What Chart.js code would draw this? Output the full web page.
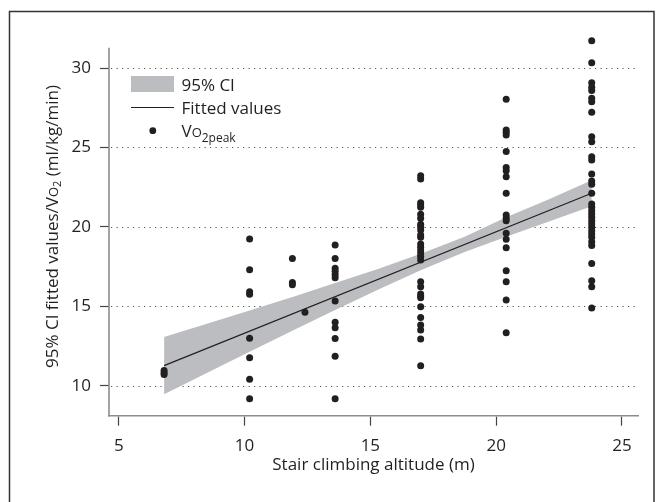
<!DOCTYPE html>
<html><head><meta charset="utf-8">
<script src="https://cdn.jsdelivr.net/npm/chart.js@4.4.0/dist/chart.umd.min.js"></script>
<style>html,body{margin:0;padding:0;background:#fff;}canvas{display:block;}</style>
</head><body>
<canvas id="c" width="662" height="502"></canvas>
<script>
// ---- data ----
const xTicks = [5, 10, 15, 20, 25];
const yTicks = [10, 15, 20, 25, 30];
const yAxisLineTop = 31.28;   // where the drawn y-axis line stops

const altitudes = [6.8, 10.2, 11.9, 12.4, 13.6, 17.0, 20.4, 23.8];
const vo2At6_8  = [10.95, 10.82, 10.7];
const vo2At10_2 = [19.24, 17.3, 15.92, 15.76, 12.98, 11.76, 10.4, 9.17];
const vo2At11_9 = [18.0, 16.5, 16.35];
const vo2At12_4 = [14.62];
const vo2At13_6 = [18.86, 18.0, 17.4, 17.2, 17.0, 16.8, 15.33, 14.0, 13.65, 12.97, 11.86, 9.17];
const vo2At17_0 = [23.22, 23.01, 21.52, 21.38, 21.23, 20.79, 20.54, 20.16, 20.01, 19.8, 19.49, 19.34,
                   18.92, 18.71, 18.5, 18.29, 18.12, 17.91, 16.55, 16.23, 15.77, 15.65, 15.54, 14.97,
                   14.3, 13.82, 13.51, 12.94, 11.26];
const vo2At20_4 = [28.03, 26.1, 25.95, 25.78, 24.74, 23.73, 23.54, 23.16, 22.11, 20.75, 20.54, 20.39,
                   19.59, 19.22, 18.69, 17.24, 16.55, 15.39, 13.34];
const vo2At23_8 = [31.72, 30.34, 29.08, 28.79, 28.58, 28.09, 27.88, 27.21, 25.68, 25.36, 24.42, 24.21,
                   23.33, 22.89, 22.68, 22.11, 21.44, 21.23, 21.02, 20.81, 20.6, 20.39, 20.18, 19.97,
                   19.76, 19.55, 19.34, 19.07, 18.82, 17.7, 16.61, 16.23, 14.89];
const vo2Columns = [vo2At6_8, vo2At10_2, vo2At11_9, vo2At12_4, vo2At13_6, vo2At17_0, vo2At20_4, vo2At23_8];

const fitX = [6.8, 23.8];
const fitY = [11.26, 22.12];

const ciX     = [6.8,  8.5,  10.2,  12.0,  13.6,  15.3,  17.0, 18.7,  20.4,  22.1,  23.8];
const ciUpper = [13.06, 13.9, 14.73, 15.63, 16.46, 17.34, 18.3, 19.34, 20.6, 21.74, 22.94];
const ciLower = [9.46, 10.8, 12.13, 13.53, 14.76, 16.04, 17.26, 18.38, 19.37, 20.34, 21.3];

// ---- styling ----
const FONT = '"Open Sans", "Noto Sans", sans-serif';
const INK = '#231f20';
const BAND = '#bcbdc0';

const points = [];
altitudes.forEach((x, i) => vo2Columns[i].forEach(y => points.push({x, y})));

function richText(ctx, segs, cx, cy) {
  let total = 0;
  segs.forEach(s => { ctx.font = s.size + 'px ' + FONT; s.w = ctx.measureText(s.t).width; total += s.w; });
  let x = cx - total / 2;
  segs.forEach(s => { ctx.font = s.size + 'px ' + FONT; ctx.fillText(s.t, x, cy + (s.dy || 0)); x += s.w; });
}

const decorPlugin = {
  id: 'decor',
  beforeDatasetsDraw(chart) {
    const {ctx, chartArea: a, scales: {y}} = chart;
    ctx.save();
    // y-axis line (ends below the top of the plotting area, as in the reference)
    ctx.strokeStyle = '#8c8c8c';
    ctx.lineWidth = 1.6;
    ctx.beginPath();
    ctx.moveTo(a.left, y.getPixelForValue(yAxisLineTop));
    ctx.lineTo(a.left, a.bottom + 0.8);
    ctx.stroke();
    // dotted horizontal grid lines
    ctx.strokeStyle = '#555';
    ctx.lineWidth = 1;
    ctx.setLineDash([1.2, 4.3]);
    yTicks.forEach(v => {
      const py = Math.round(y.getPixelForValue(v)) + 0.5;
      ctx.beginPath(); ctx.moveTo(a.left + 2, py); ctx.lineTo(a.right, py); ctx.stroke();
    });
    ctx.restore();
  },
  afterDraw(chart) {
    const {ctx} = chart;
    ctx.save();
    ctx.strokeStyle = '#333';
    ctx.lineWidth = 1.5;
    ctx.strokeRect(9.5, 11.5, 644.5, 520);
    ctx.fillStyle = INK;
    ctx.textBaseline = 'middle';
    ctx.translate(53, 226.5);
    ctx.rotate(-Math.PI / 2);
    richText(ctx, [
      {t: '95% CI fitted values/V', size: 17},
      {t: 'O', size: 13, dy: 1},
      {t: '2', size: 11, dy: 5},
      {t: ' (ml/kg/min)', size: 17}
    ], 0, 0);
    ctx.restore();

    ctx.save();
    ctx.fillStyle = BAND;
    ctx.fillRect(131, 76, 43, 16);
    ctx.strokeStyle = INK;
    ctx.lineWidth = 1.2;
    ctx.beginPath(); ctx.moveTo(131, 107.5); ctx.lineTo(174, 107.5); ctx.stroke();
    ctx.fillStyle = INK;
    ctx.beginPath(); ctx.arc(152.8, 130.7, 3.4, 0, Math.PI * 2); ctx.fill();
    ctx.textBaseline = 'alphabetic';
    ctx.textAlign = 'left';
    ctx.font = '17px ' + FONT;
    ctx.fillText('95% CI', 181.5, 91);
    ctx.fillText('Fitted values', 181.5, 114);
    let x = 181.5;
    ctx.font = '17px ' + FONT; ctx.fillText('V', x, 137); x += ctx.measureText('V').width;
    ctx.font = '13px ' + FONT; ctx.fillText('O', x, 137); x += ctx.measureText('O').width;
    ctx.font = '12px ' + FONT; ctx.fillText('2peak', x, 142);
    ctx.restore();
  }
};

new Chart(document.getElementById('c'), {
  type: 'scatter',
  data: {
    datasets: [
      {
        type: 'line', label: '95% CI upper',
        data: ciX.map((x, i) => ({x, y: ciUpper[i]})),
        borderColor: 'transparent', borderWidth: 0, pointRadius: 0,
        backgroundColor: BAND, fill: '+1', tension: 0, order: 3
      },
      {
        type: 'line', label: '95% CI lower',
        data: ciX.map((x, i) => ({x, y: ciLower[i]})),
        borderColor: 'transparent', borderWidth: 0, pointRadius: 0,
        fill: false, tension: 0, order: 3
      },
      {
        type: 'line', label: 'Fitted values',
        data: fitX.map((x, i) => ({x, y: fitY[i]})),
        borderColor: INK, borderWidth: 1.2, pointRadius: 0, fill: false, tension: 0, order: 2
      },
      {
        type: 'scatter', label: 'VO2peak',
        data: points,
        pointRadius: 3.5, pointBackgroundColor: INK, pointBorderWidth: 0,
        pointBorderColor: INK, clip: false, order: 1
      }
    ]
  },
  options: {
    responsive: false,
    animation: false,
    devicePixelRatio: 1,
    layout: {padding: {left: 43, top: 37.85, right: 24, bottom: 27}},
    plugins: {legend: {display: false}, tooltip: {enabled: false}},
    scales: {
      x: {
        type: 'linear', min: 4.61, max: 25.64,
        afterBuildTicks: s => { s.ticks = xTicks.map(v => ({value: v})); },
        afterFit: s => { s.height = 59.3; },
        grid: {drawOnChartArea: false, drawTicks: true, tickLength: 10, tickColor: '#444', tickWidth: 1.2},
        border: {display: true, color: '#8c8c8c', width: 1.6},
        ticks: {font: {family: FONT, size: 17}, color: INK, padding: 10, maxRotation: 0},
        title: {display: true, text: 'Stair climbing altitude (m)', font: {family: FONT, size: 17}, color: INK, padding: 0}
      },
      y: {
        type: 'linear', min: 8.11, max: 31.9,
        afterBuildTicks: s => { s.ticks = yTicks.map(v => ({value: v})); },
        afterFit: s => { s.width = 66; },
        grid: {drawOnChartArea: false, drawTicks: true, tickLength: 9, tickColor: '#444', tickWidth: 1.2},
        border: {display: false},
        ticks: {font: {family: FONT, size: 17}, color: INK, padding: 9}
      }
    }
  },
  plugins: [decorPlugin]
});
</script>
</body></html>
